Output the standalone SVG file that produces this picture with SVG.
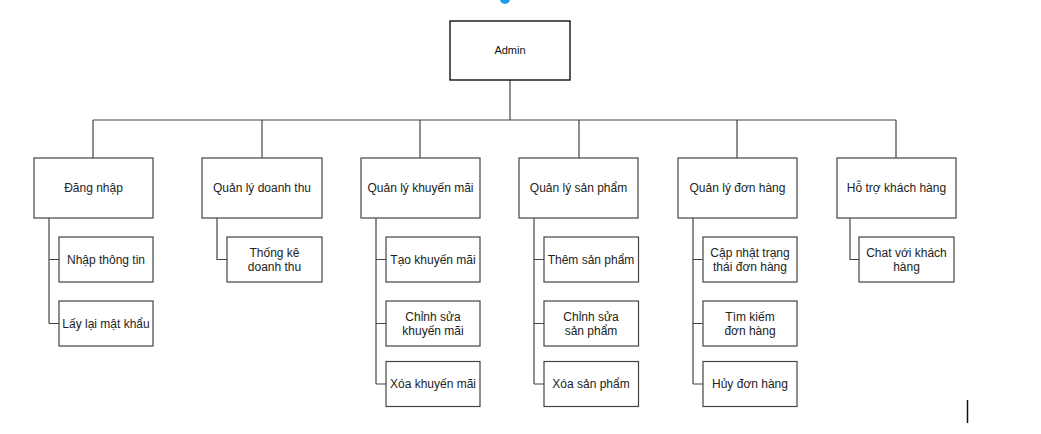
<svg xmlns="http://www.w3.org/2000/svg" width="1041" height="434" viewBox="0 0 1041 434">
<style>
.box{fill:#fff;stroke:#444;stroke-width:1.2}
.root{fill:#fff;stroke:#111;stroke-width:1.4}
.ln{fill:none;stroke:#444;stroke-width:1.2}
text{font-family:"Liberation Sans",Arial,sans-serif;font-size:12px;fill:#222;text-anchor:middle;dominant-baseline:central}
.t{font-size:11px;fill:#111}
</style>
<rect width="1041" height="434" fill="#fff"/>
<circle cx="505" cy="-1" r="5" fill="#1a9bf0"/>
<line x1="967.5" y1="400" x2="967.5" y2="423" stroke="#111" stroke-width="1.5"/>
<g id="connectors">
<path class="ln" d="M510,80V120M93,120H896M93,120V158M262,120V158M420,120V158M579,120V158M737,120V158M896,120V158"/>
<path class="ln" d="M49,218V323.5M49,259.5H59M49,323.5H59"/>
<path class="ln" d="M217,218V259.5H227"/>
<path class="ln" d="M376,218V384M376,259.5H386M376,323.5H386M376,384H386"/>
<path class="ln" d="M534,218V384M534,259.5H544M534,323.5H544M534,384H544"/>
<path class="ln" d="M693,218V384M693,259.5H703M693,323.5H703M693,384H703"/>
<path class="ln" d="M850,218V259.5H859"/>
</g>
<g id="admin"><rect class="root" x="450" y="21" width="120" height="59"/><text class="t" x="510" y="50">Admin</text></g>
<g id="dangnhap"><rect class="box" x="34" y="158" width="119" height="60"/><text x="93.5" y="188">Đăng nhập</text></g>
<g id="doanhthu"><rect class="box" x="202" y="158" width="120" height="60"/><text x="262" y="188">Quản lý doanh thu</text></g>
<g id="khuyenmai"><rect class="box" x="361" y="158" width="119" height="60"/><text x="420.5" y="188">Quản lý khuyến mãi</text></g>
<g id="sanpham"><rect class="box" x="519" y="158" width="119" height="60"/><text x="578.5" y="188">Quản lý sản phẩm</text></g>
<g id="donhang"><rect class="box" x="678" y="158" width="119" height="60"/><text x="737.5" y="188">Quản lý đơn hàng</text></g>
<g id="hotro"><rect class="box" x="837" y="158" width="119" height="60"/><text x="896.5" y="188">Hỗ trợ khách hàng</text></g>
<g id="nhapthongtin"><rect class="box" x="59" y="237" width="94" height="45"/><text x="106" y="259.5">Nhập thông tin</text></g>
<g id="laylaimatkhau"><rect class="box" x="59" y="301" width="94" height="45"/><text x="106" y="323.5">Lấy lại mật khẩu</text></g>
<g id="thongke"><rect class="box" x="227" y="237" width="95" height="45"/><text x="274.5" y="252.5">Thống kê</text><text x="274.5" y="266.5">doanh thu</text></g>
<g id="taokm"><rect class="box" x="386" y="237" width="94" height="45"/><text x="433" y="259.5">Tạo khuyến mãi</text></g>
<g id="suakm"><rect class="box" x="386" y="301" width="94" height="45"/><text x="433" y="316.5">Chỉnh sửa</text><text x="433" y="330.5">khuyến mãi</text></g>
<g id="xoakm"><rect class="box" x="386" y="361.5" width="94" height="45"/><text x="433" y="384">Xóa khuyến mãi</text></g>
<g id="themsp"><rect class="box" x="544" y="237" width="94.5" height="45"/><text x="591" y="259.5">Thêm sản phẩm</text></g>
<g id="suasp"><rect class="box" x="544" y="301" width="94.5" height="45"/><text x="591" y="316.5">Chỉnh sửa</text><text x="591" y="330.5">sản phẩm</text></g>
<g id="xoasp"><rect class="box" x="544" y="361.5" width="94.5" height="45"/><text x="591" y="384">Xóa sản phẩm</text></g>
<g id="capnhat"><rect class="box" x="703" y="237" width="94" height="45"/><text x="750" y="252.5">Cập nhật trạng</text><text x="750" y="266.5">thái đơn hàng</text></g>
<g id="timkiem"><rect class="box" x="703" y="301" width="94" height="45"/><text x="750" y="316.5">Tìm kiếm</text><text x="750" y="330.5">đơn hàng</text></g>
<g id="huy"><rect class="box" x="703" y="361.5" width="94" height="45"/><text x="750" y="384">Hủy đơn hàng</text></g>
<g id="chat"><rect class="box" x="859" y="237" width="95" height="45"/><text x="906.5" y="252.5">Chat với khách</text><text x="906.5" y="266.5">hàng</text></g>
</svg>
